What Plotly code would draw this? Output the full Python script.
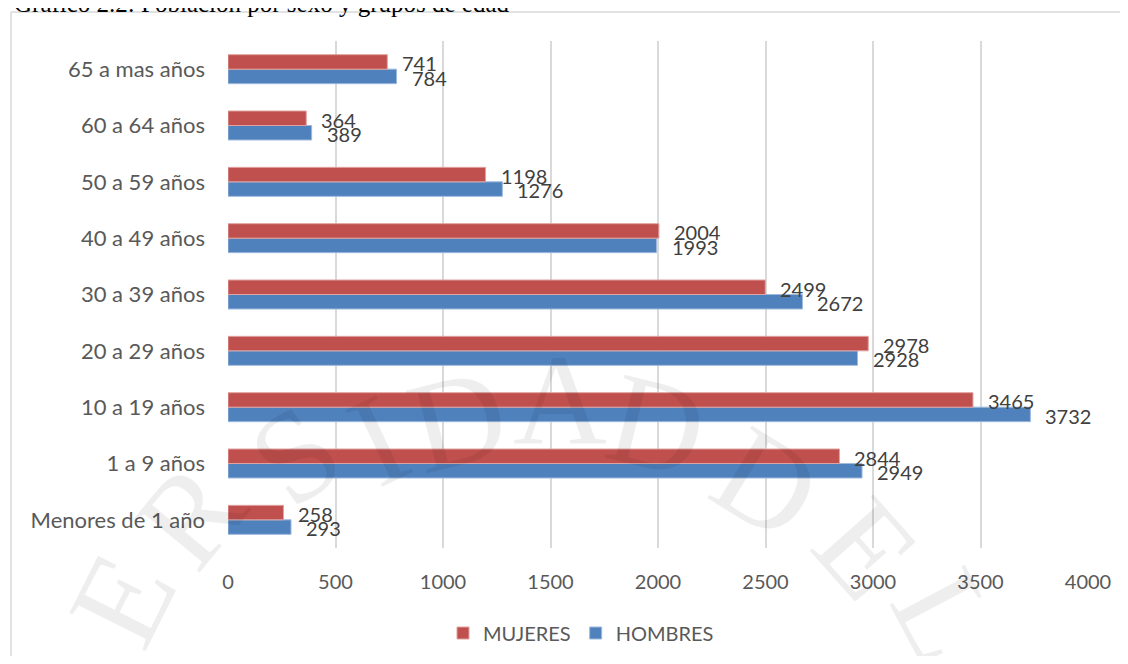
import math
import plotly.graph_objects as go

categories = ["Menores de 1 año", "1 a 9 años", "10 a 19 años", "20 a 29 años",
              "30 a 39 años", "40 a 49 años", "50 a 59 años", "60 a 64 años",
              "65 a mas años"]
mujeres = [258, 2844, 3465, 2978, 2499, 2004, 1198, 364, 741]
hombres = [293, 2949, 3732, 2928, 2672, 1993, 1276, 389, 784]
x_ticks = [0, 500, 1000, 1500, 2000, 2500, 3000, 3500, 4000]
title_text = "Gráfico 2.2: Población por sexo y grupos de edad"

# watermark letters (approximate, screen pixels)
wm_letters = ["E", "R", "S", "I", "D", "A", "D", "D", "E", "L"]
wm_px = [122, 190, 295, 378, 458, 560, 657, 767, 866, 945]
wm_py = [600, 515, 455, 440, 420, 400, 425, 483, 548, 615]

RED = "#C0504D"
BLUE = "#4F81BD"
FONT = "Lato"

# page body has an 8px margin; screen coords -> figure coords
OFF = 8
W, H = 1112, 648
L, R, T, B = 220, 32, 33, 108
PW, PH = W - L - R, H - T - B

def px2x(px):
    return (px - OFF - L) / PW

def py2y(py):
    return (H - B - (py - OFF)) / PH

fig = go.Figure()
fig.add_trace(go.Bar(
    y=categories, x=hombres, name="HOMBRES", orientation="h",
    marker=dict(color=BLUE, line=dict(color="#9DB9DE", width=1)),
    legendrank=2, hoverinfo="x+name",
))
fig.add_trace(go.Bar(
    y=categories, x=mujeres, name="MUJERES", orientation="h",
    marker=dict(color=RED, line=dict(color="#E0A3A1", width=1)),
    legendrank=1, hoverinfo="x+name",
))

annotations = []
for c, v in zip(categories, mujeres):
    annotations.append(dict(x=v, y=c, xref="x", yref="y", text=str(v),
                            showarrow=False, xanchor="left", yanchor="middle",
                            xshift=13, yshift=6,
                            font=dict(family=FONT, size=20, color="#404040")))
for c, v in zip(categories, hombres):
    annotations.append(dict(x=v, y=c, xref="x", yref="y", text=str(v),
                            showarrow=False, xanchor="left", yanchor="middle",
                            xshift=13, yshift=-8.5,
                            font=dict(family=FONT, size=20, color="#404040")))

# watermark
cx, cy = 560, 820
wm_ann = []
for ch, lx, ly in zip(wm_letters, wm_px, wm_py):
    ang = math.degrees(math.atan2(lx - cx, cy - ly))
    wm_ann.append(dict(x=px2x(lx), y=py2y(ly), xref="paper", yref="paper",
                       text=ch, showarrow=False, textangle=ang,
                       xanchor="center", yanchor="middle",
                       font=dict(family="Liberation Serif", size=130,
                                 color="rgba(0,0,0,0.065)")))

# title
annotations.append(dict(x=px2x(12), y=py2y(3), xref="paper", yref="paper",
                        text=title_text, showarrow=False, xanchor="left",
                        yanchor="middle",
                        font=dict(family="Liberation Serif", size=25, color="#000000")))

border = dict(color="#D9D9D9", width=1.5)
fig.update_layout(
    width=W, height=H,
    margin=dict(l=L, r=R, t=T, b=B, pad=0, autoexpand=False),
    paper_bgcolor="white", plot_bgcolor="white",
    barmode="group", bargap=0.485, bargroupgap=0,
    showlegend=True,
    legend=dict(orientation="h", x=px2x(581), y=py2y(633),
                xanchor="center", yanchor="middle",
                font=dict(family=FONT, size=20, color="#595959"),
                itemwidth=30, traceorder="normal"),
    annotations=wm_ann + annotations,
    shapes=[
        dict(type="line", xref="paper", yref="paper",
             x0=px2x(11), x1=px2x(1200), y0=py2y(12), y1=py2y(12),
             line=border, layer="below"),
        dict(type="line", xref="paper", yref="paper",
             x0=px2x(11), x1=px2x(11), y0=py2y(12), y1=py2y(700),
             line=border, layer="below"),
    ],
    font=dict(family=FONT),
)
fig.update_xaxes(range=[0, 4000], tickvals=x_ticks, ticktext=[str(t) for t in x_ticks],
                 showgrid=True, gridcolor="#D9D9D9", gridwidth=1.5,
                 zeroline=False, showline=False, automargin=False,
                 tickfont=dict(family=FONT, size=20, color="#595959"),
                 ticklabelstandoff=20)
fig.update_yaxes(categoryorder="array", categoryarray=categories,
                 showgrid=False, zeroline=False, showline=False, automargin=False,
                 tickfont=dict(family=FONT, size=22, color="#595959"),
                 ticklabelstandoff=22)

fig.write_html("out.html")
